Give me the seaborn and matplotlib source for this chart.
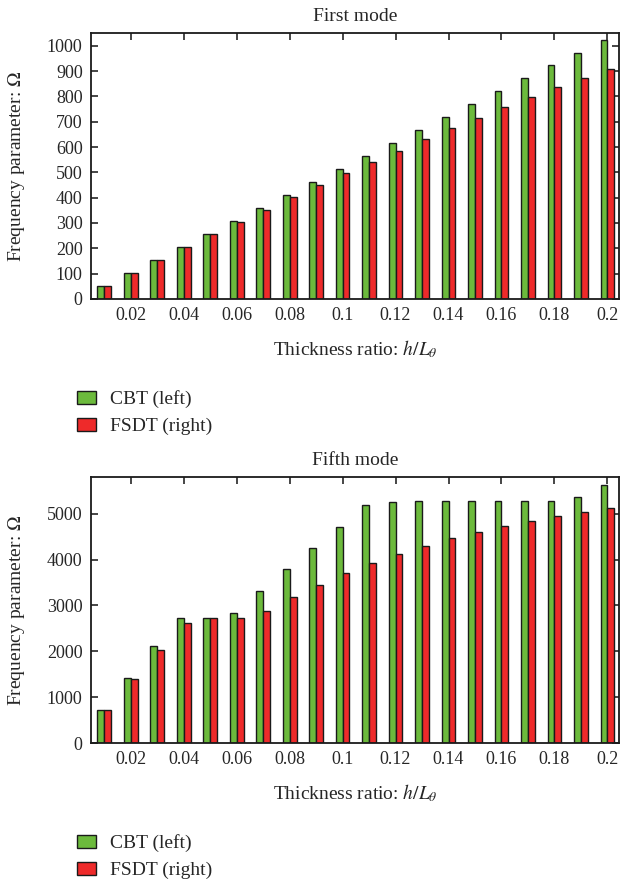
import pandas as pd
import numpy as np
import matplotlib
matplotlib.use("Agg")
import matplotlib.pyplot as plt
import matplotlib.patches as mpatches
import seaborn as sns

# ── Data ──────────────────────────────────────────────────────────────────────
thickness = [0.01, 0.02, 0.03, 0.04, 0.05, 0.06, 0.07, 0.08, 0.09, 0.10,
             0.11, 0.12, 0.13, 0.14, 0.15, 0.16, 0.17, 0.18, 0.19, 0.20]

first_cbt = [51, 103, 154, 205, 257, 308, 359, 410, 461, 513,
             564, 615, 668, 718, 769, 820, 871, 923, 972, 1022]
first_fsdt = [51, 103, 154, 205, 256, 304, 352, 402, 450, 497,
              541, 586, 632, 675, 716, 758, 798, 836, 874, 909]

fifth_cbt = [710, 1416, 2127, 2723, 2723, 2839, 3311, 3791, 4255, 4719,
             5185, 5264, 5268, 5268, 5279, 5279, 5286, 5286, 5359, 5634]
fifth_fsdt = [710, 1386, 2033, 2628, 2723, 2723, 2882, 3187, 3456, 3704,
              3921, 4124, 4299, 4466, 4611, 4734, 4850, 4959, 5039, 5120]

xtick_labels = ["0.02", "0.04", "0.06", "0.08", "0.1",
                "0.12", "0.14", "0.16", "0.18", "0.2"]
series_names = ["CBT (left)", "FSDT (right)"]
colors = ["#6cba3c", "#ee2a2a"]

# ── Style ─────────────────────────────────────────────────────────────────────
sns.set_style("ticks")
plt.rcParams["font.family"] = ["Liberation Serif", "DejaVu Serif"]
plt.rcParams["mathtext.fontset"] = "stix"
plt.rcParams["axes.linewidth"] = 1.3

fig = plt.figure(figsize=(6.21, 8.83), dpi=100)

panels = [
    ("First mode", first_cbt, first_fsdt, np.arange(0, 1001, 100), 1050,
     [0.1465, 0.6614, 0.850, 0.3012]),
    ("Fifth mode", fifth_cbt, fifth_fsdt, np.arange(0, 5001, 1000), 5800,
     [0.1465, 0.1585, 0.850, 0.3012]),
]

for title, cbt, fsdt, yticks, ytop, rect in panels:
    ax = fig.add_axes(rect)
    df = pd.DataFrame({
        "h": [f"{t:.2f}" for t in thickness] * 2,
        "value": cbt + fsdt,
        "model": [series_names[0]] * len(cbt) + [series_names[1]] * len(fsdt),
    })
    sns.barplot(data=df, x="h", y="value", hue="model", palette=colors,
                saturation=1, width=0.52, gap=0, edgecolor="#1a1a1a",
                linewidth=1.0, ax=ax, legend=False)

    ax.set_xlim(-0.5, 19.43)
    ax.set_ylim(0, ytop)
    ax.set_xticks(np.arange(1, 20, 2))
    ax.set_xticklabels(xtick_labels, fontsize=13)
    ax.set_yticks(yticks)
    ax.set_yticklabels([str(v) for v in yticks], fontsize=13)
    ax.tick_params(direction="in", length=5, width=1.2, top=True, right=True,
                   pad=6)
    for sp in ax.spines.values():
        sp.set_visible(True)
        sp.set_color("#1a1a1a")

    ax.set_title(title, fontsize=14, pad=9)
    ax.set_xlabel(r"Thickness ratio: $h/L_{\theta}$", fontsize=14, labelpad=10)
    ax.set_ylabel(r"Frequency parameter: $\Omega$", fontsize=14, labelpad=14)

    handles = [mpatches.Patch(facecolor=c, edgecolor="#1a1a1a", linewidth=1.0,
                              label=n) for c, n in zip(colors, series_names)]
    ax.legend(handles=handles, loc="upper left", bbox_to_anchor=(-0.042, -0.314),
              frameon=False, fontsize=14, handlelength=1.0, handleheight=0.65,
              handletextpad=0.7, labelspacing=0.5, borderaxespad=0)

plt.savefig("out.png", dpi=100)
plt.close()
